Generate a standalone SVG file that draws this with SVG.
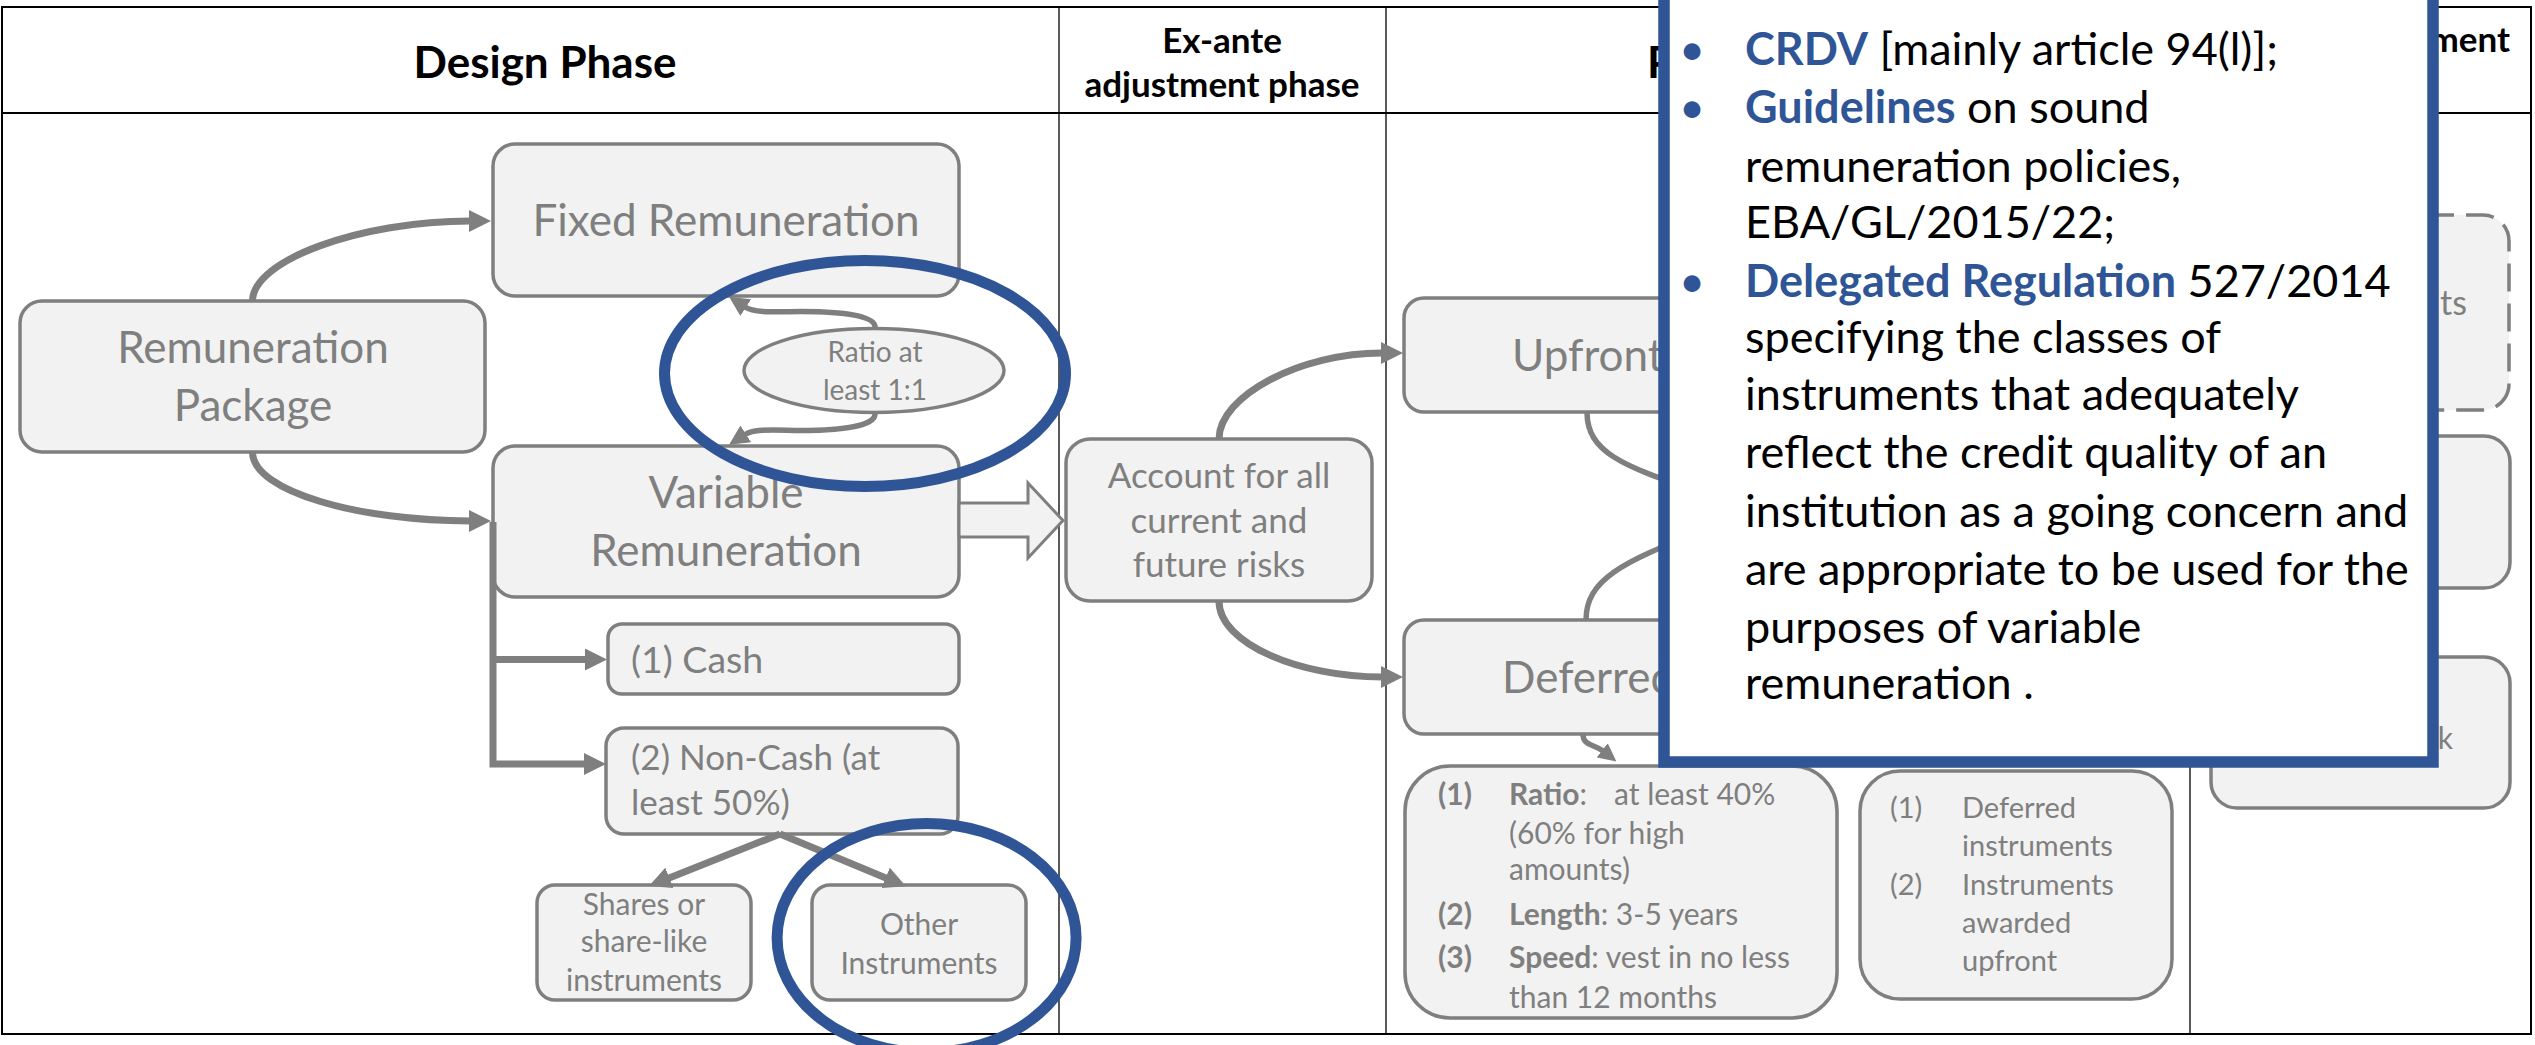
<svg xmlns="http://www.w3.org/2000/svg" width="2535" height="1045" viewBox="0 0 2535 1045">
<defs>
<style>
.nd rect,.nd ellipse{fill:#F2F2F2;stroke:#7F7F7F;stroke-width:3.5}
.t{font-family:Lato,"Open Sans",sans-serif;fill:#7F7F7F}
.m{text-anchor:middle}
.h{font-family:Lato,"Open Sans",sans-serif;font-weight:bold;fill:#000}
.c{fill:none;stroke:#7F7F7F;stroke-width:7}
.cs{fill:none;stroke:#7F7F7F;stroke-width:5.5}
.g{stroke:#000;fill:none}
.hl{fill:none;stroke:#2F5597;stroke-width:11}
.p{font-family:Lato,"Open Sans",sans-serif;fill:#000;font-size:45px}
.bl{fill:#2F5597;font-weight:bold}
.bu{fill:#2F5597;text-anchor:middle}
.bd{font-weight:bold}
</style>
<marker id="ah" viewBox="0 0 22 22" markerWidth="22" markerHeight="22" markerUnits="userSpaceOnUse" refX="1" refY="11" orient="auto"><path d="M0,0 L22,11 L0,22 Z" fill="#7F7F7F"/></marker>
<marker id="am" viewBox="0 0 20 20" markerWidth="20" markerHeight="20" markerUnits="userSpaceOnUse" refX="1" refY="10" orient="auto"><path d="M0,0 L20,10 L0,20 Z" fill="#7F7F7F"/></marker>
<marker id="as" viewBox="0 0 18 18" markerWidth="18" markerHeight="18" markerUnits="userSpaceOnUse" refX="1" refY="9" orient="auto"><path d="M0,0 L18,9 L0,18 Z" fill="#7F7F7F"/></marker>
</defs>
<rect x="0" y="0" width="2535" height="1045" fill="#fff"/>

<g id="table">
<rect class="g" x="2" y="7" width="2529" height="1027" stroke-width="2"/>
<line class="g" x1="2" y1="113" x2="2531" y2="113" stroke-width="2"/>
<line class="g" x1="1059" y1="7" x2="1059" y2="1034" stroke-width="1.3"/>
<line class="g" x1="1386" y1="7" x2="1386" y2="1034" stroke-width="1.3"/>
<line class="g" x1="2190" y1="7" x2="2190" y2="1034" stroke-width="1.3"/>
</g>

<g id="headers">
<text class="h m" x="545" y="78" font-size="44">Design Phase</text>
<text class="h m" x="1222" y="53" font-size="35">Ex-ante</text>
<text class="h m" x="1222" y="97" font-size="35">adjustment phase</text>
<text class="h" x="1647" y="78" font-size="44">P</text>
<text class="h" x="2510" y="52" font-size="35" text-anchor="end">ment</text>
</g>

<g id="n-package" class="nd"><rect x="20" y="301" width="465" height="151" rx="22"/>
<text class="t m" x="253" y="363" font-size="44">Remuneration</text>
<text class="t m" x="253" y="421" font-size="44">Package</text></g>

<g id="n-fixed" class="nd"><rect x="493" y="144" width="466" height="152" rx="22"/>
<text class="t m" x="726" y="236" font-size="44">Fixed Remuneration</text></g>

<g id="n-variable" class="nd"><rect x="493" y="446" width="466" height="151" rx="22"/>
<text class="t m" x="726" y="508" font-size="44">Variable</text>
<text class="t m" x="726" y="566" font-size="44">Remuneration</text></g>

<g id="n-ratio" class="nd"><ellipse cx="874" cy="370.5" rx="130" ry="42"/>
<text class="t m" x="875" y="362" font-size="28">Ratio at</text>
<text class="t m" x="875" y="400" font-size="28">least 1:1</text></g>

<g id="n-cash" class="nd"><rect x="608" y="624" width="351" height="70" rx="14"/>
<text class="t" x="631" y="673" font-size="37.5">(1) Cash</text></g>

<g id="n-noncash" class="nd"><rect x="606" y="728" width="352" height="106" rx="18"/>
<text class="t" x="631" y="770" font-size="35">(2) Non-Cash (at</text>
<text class="t" x="631" y="814.5" font-size="35">least 50%)</text></g>

<g id="n-shares" class="nd"><rect x="537" y="885" width="214" height="115" rx="18"/>
<text class="t m" x="644" y="915" font-size="30">Shares or</text>
<text class="t m" x="644" y="952" font-size="30">share-like</text>
<text class="t m" x="644" y="991" font-size="30">instruments</text></g>

<g id="n-other" class="nd"><rect x="812" y="885" width="214" height="115" rx="18"/>
<text class="t m" x="919" y="934.5" font-size="30">Other</text>
<text class="t m" x="919" y="973.5" font-size="30">Instruments</text></g>

<g id="n-account" class="nd"><rect x="1066" y="439" width="306" height="162" rx="24"/>
<text class="t m" x="1219" y="488" font-size="35">Account for all</text>
<text class="t m" x="1219" y="533" font-size="35">current and</text>
<text class="t m" x="1219" y="577" font-size="35">future risks</text></g>

<g id="n-upfront" class="nd"><rect x="1404" y="298" width="420" height="114" rx="20"/>
<text class="t" x="1512" y="371" font-size="44">Upfront</text></g>

<g id="n-deferred" class="nd"><rect x="1404" y="620" width="420" height="114" rx="20"/>
<text class="t" x="1502" y="692.5" font-size="44">Deferred</text></g>

<g id="n-details" class="nd"><rect x="1405" y="766" width="432" height="252" rx="45"/>
<text class="t" font-size="30"><tspan class="bd" x="1438" y="805">(1)</tspan><tspan class="bd" x="1509" y="805">Ratio</tspan><tspan>:</tspan><tspan x="1614" y="805">at least 40%</tspan></text>
<text class="t" x="1509" y="844" font-size="30">(60% for high</text>
<text class="t" x="1509" y="880" font-size="30">amounts)</text>
<text class="t" font-size="30"><tspan class="bd" x="1438" y="925">(2)</tspan><tspan class="bd" x="1509" y="925">Length</tspan><tspan>: 3-5 years</tspan></text>
<text class="t" font-size="30"><tspan class="bd" x="1438" y="967.5">(3)</tspan><tspan class="bd" x="1509" y="967.5">Speed</tspan><tspan>: vest in no less</tspan></text>
<text class="t" x="1509" y="1007.5" font-size="30">than 12 months</text></g>

<g id="n-instruments" class="nd"><rect x="1860" y="771" width="312" height="228" rx="40"/>
<text class="t" x="1890" y="818" font-size="29">(1)</text>
<text class="t" x="1962" y="818" font-size="29">Deferred</text>
<text class="t" x="1962" y="856" font-size="29">instruments</text>
<text class="t" x="1890" y="894.5" font-size="29">(2)</text>
<text class="t" x="1962" y="894.5" font-size="29">Instruments</text>
<text class="t" x="1962" y="932.5" font-size="29">awarded</text>
<text class="t" x="1962" y="971" font-size="29">upfront</text></g>

<g id="n-expost1" class="nd"><rect x="2200" y="215" width="309" height="195" rx="26" stroke-dasharray="28 12"/>
<text class="t" x="2467" y="315" font-size="34" text-anchor="end">ts</text></g>

<g id="n-expost2" class="nd"><rect x="2200" y="436" width="310" height="152" rx="26"/></g>

<g id="n-expost3" class="nd"><rect x="2211" y="657" width="299" height="151" rx="26"/>
<text class="t" x="2453" y="749" font-size="30" text-anchor="end">k</text></g>

<g id="connectors">
<path class="c" d="M252.5,301 C252.5,260 361,221 470,221" marker-end="url(#ah)"/>
<path class="c" d="M252.5,452 C252.5,492 361,521 470,521" marker-end="url(#ah)"/>
<path class="cs" stroke-width="6" d="M875,327 C875,316 845,311.5 801,311.5 C780,311.5 755,313.5 745,307" marker-end="url(#am)"/>
<path class="cs" stroke-width="6" d="M875,414 C875,425 845,430.5 801,430.5 C780,430.5 755,428 745,434.5" marker-end="url(#am)"/>
<path class="c" stroke-linejoin="miter" d="M493,522 V764 H585" marker-end="url(#ah)"/>
<path class="c" d="M493,659.5 H586" marker-end="url(#ah)"/>
<path class="c" stroke-width="6.5" d="M780,834 L668.5,878.25" marker-end="url(#ah)"/>
<path class="c" stroke-width="6.5" d="M780,834 L886.5,878.25" marker-end="url(#ah)"/>
<path d="M959,503 H1028 V483 L1063,520.5 L1028,558 V537 H959 Z" fill="#F2F2F2" stroke="#7F7F7F" stroke-width="3"/>
<path class="c" d="M1219,439 C1219,396 1300,353 1382,353" marker-end="url(#ah)"/>
<path class="c" d="M1219,601 C1219,644 1300,677 1382,677" marker-end="url(#ah)"/>
<path class="cs" d="M1583,734 C1583,746 1594,744 1603,751" marker-end="url(#as)"/>
<path class="cs" d="M1587,412 C1587,452 1622,466 1700,492"/>
<path class="cs" d="M1586,620 C1586,580 1622,562 1700,532"/>
</g>

<g id="highlights">
<ellipse class="hl" cx="865" cy="373.5" rx="200.5" ry="113"/>
<ellipse class="hl" cx="926.6" cy="938" rx="149.5" ry="114.5"/>
</g>

<g id="popup">
<rect x="1664" y="-20" width="769" height="782" fill="#fff" stroke="#2F5597" stroke-width="11.5"/>
<text class="p bu" x="1692" y="65">•</text>
<text class="p" x="1745" y="65"><tspan class="bl">CRDV</tspan> [mainly article 94(l)];</text>
<text class="p bu" x="1692" y="123">•</text>
<text class="p" x="1745" y="123"><tspan class="bl">Guidelines</tspan> on sound</text>
<text class="p" x="1745" y="182">remuneration policies,</text>
<text class="p" x="1745" y="238">EBA/GL/2015/22;</text>
<text class="p bu" x="1692" y="297">•</text>
<text class="p" x="1745" y="297"><tspan class="bl">Delegated Regulation</tspan> 527/2014</text>
<text class="p" x="1745" y="353">specifying the classes of</text>
<text class="p" x="1745" y="410">instruments that adequately</text>
<text class="p" x="1745" y="468">reflect the credit quality of an</text>
<text class="p" x="1745" y="527">institution as a going concern and</text>
<text class="p" x="1745" y="584.5">are appropriate to be used for the</text>
<text class="p" x="1745" y="642.5">purposes of variable</text>
<text class="p" x="1745" y="699">remuneration .</text>
</g>
</svg>
